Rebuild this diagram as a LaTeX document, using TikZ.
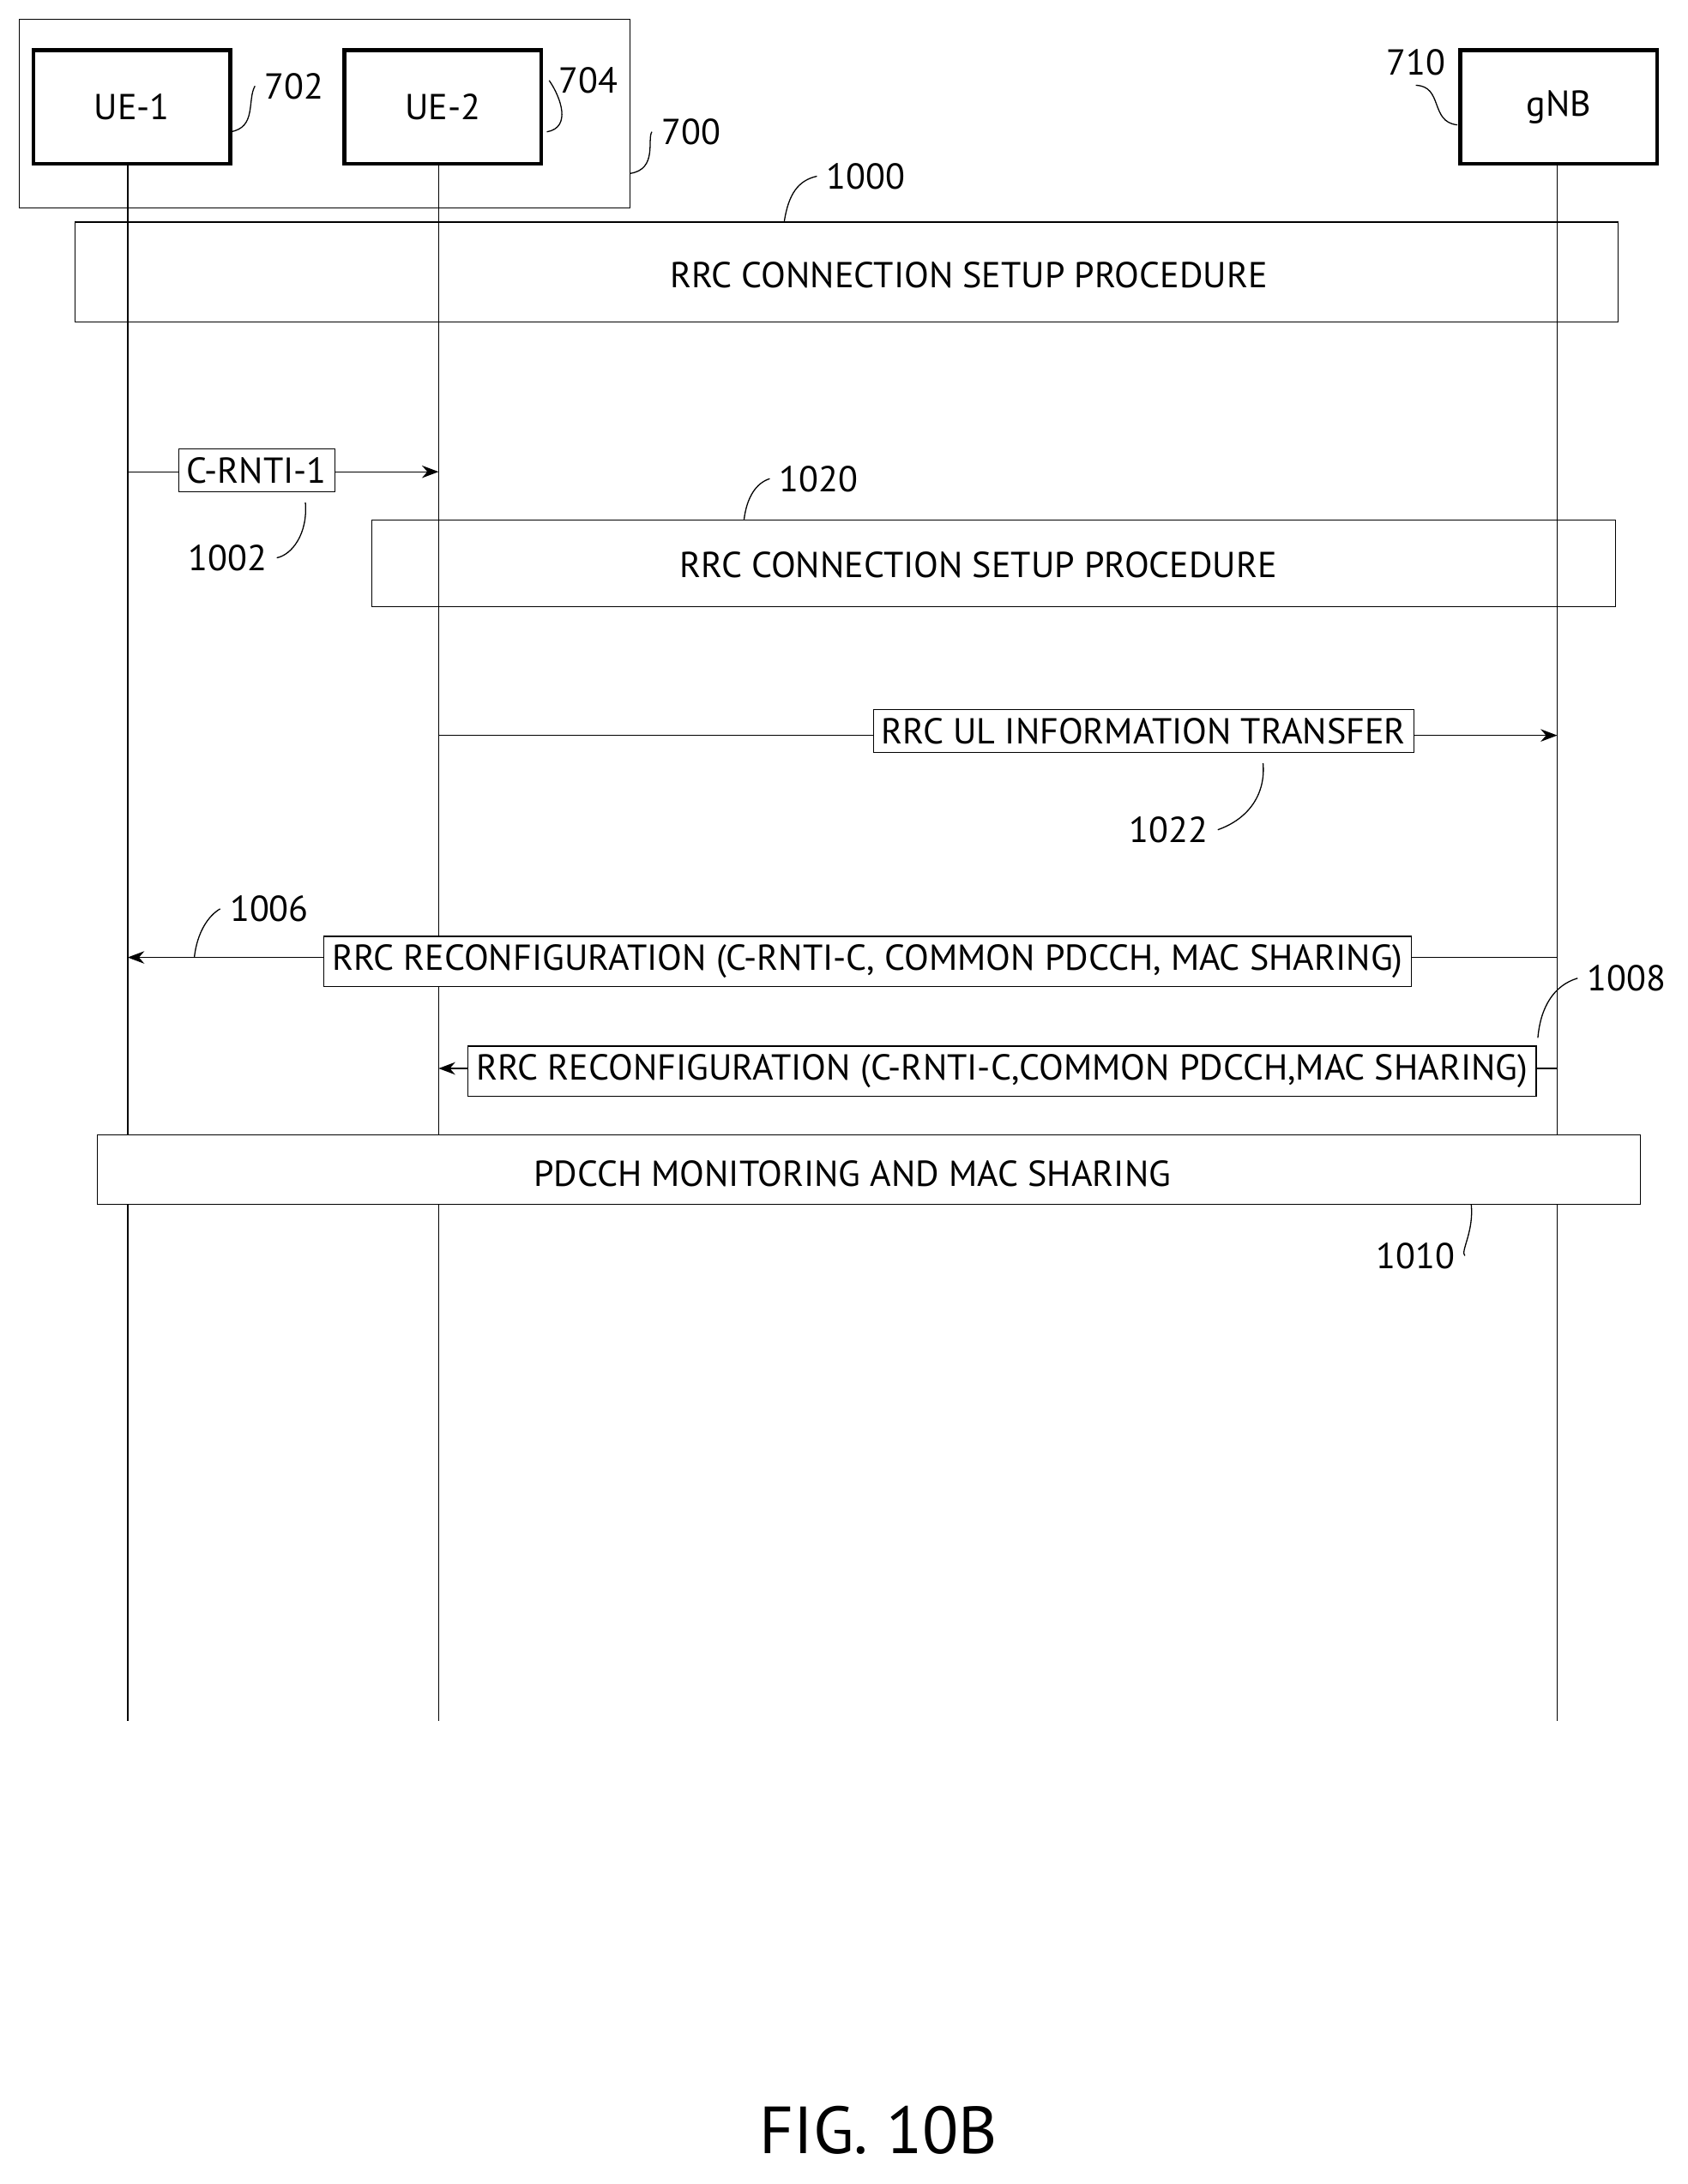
\documentclass[tikz,border=0pt]{standalone}
\usepackage{fontspec}
\setmainfont{PT Sans}
\usetikzlibrary{arrows.meta,positioning}
\tikzset{
  ent/.style={draw,line width=1.4pt,minimum width=71pt,minimum height=41pt,font=\fontsize{13}{15}\selectfont},
  proc/.style={draw,thin,font=\fontsize{13}{15}\selectfont},
  msg/.style={draw,thin,fill=white,inner sep=3pt,font=\fontsize{13}{15}\selectfont},
  lbl/.style={font=\fontsize{13}{15}\selectfont},
  life/.style={thin},
  sig/.style={thin,-{Stealth[length=6pt]}},
  lead/.style={thin}
}
\begin{document}
\begin{tikzpicture}[x=0.5pt,y=-0.5pt]
\useasboundingbox (0,0) rectangle (1216,1574);

% entities
\draw[thin] (14,14) rectangle (454,150);
\node[ent] (ue1) at (95,77) {UE-1};
\node[ent] (ue2) at (319,77) {UE-2};
\node[ent] (gnb) at (1123,77) {gNB};

% lifelines
\coordinate (ue1e) at (92,1240);
\coordinate (ue2e) at (316,1240);
\coordinate (gnbe) at (1122,1240);
\draw[life] (ue1.south -| ue1e) -- (ue1e);
\draw[life] (ue2.south -| ue2e) -- (ue2e);
\draw[life] (gnb.south -| gnbe) -- (gnbe);

% reference numerals
\node[lbl] (n702) at (212,62) {702};
\draw[lead] (166,95) .. controls (185,92) and (178,72) .. (n702.west);
\node[lbl] (n704) at (424,58) {704};
\draw[lead] (394,95) .. controls (412,92) and (404,70) .. (n704.west);
\node[lbl] (n700) at (498,95) {700};
\draw[lead] (454,125) .. controls (474,122) and (466,100) .. (n700.west);
\node[lbl] (n710) at (1020,45) {710};
\draw[lead] (1050,90) .. controls (1030,88) and (1040,62) .. (n710.south);

% procedures
\node[proc,minimum width=556pt,minimum height=36pt] (p1000) at (610,196) {};
\node[lbl] (t1000) at (698,198) {RRC CONNECTION SETUP PROCEDURE};
\node[lbl] (n1000) at (624,127) {1000};
\draw[lead] (565,160) .. controls (568,140) and (575,130) .. (n1000.west);

\draw[sig] (92,340) coordinate (c1s) -- (316,340);
\node[msg] (m1002) at (185,339) {C-RNTI-1};
\node[lbl] (n1002) at (164,402) {1002};
\draw[lead] (220,362) .. controls (222,385) and (210,400) .. (n1002.east);

\node[proc,minimum width=448pt,minimum height=31pt] (p1020) at (716,406) {};
\node[lbl] (t1020) at (705,407) {RRC CONNECTION SETUP PROCEDURE};
\node[lbl] (n1020) at (590,345) {1020};
\draw[lead] (536,375) .. controls (538,358) and (545,348) .. (n1020.west);

\draw[sig] (316,530) -- (1122,530);
\node[msg] (m1022) at (824,527) {RRC UL INFORMATION TRANSFER};
\node[lbl] (n1022) at (842,598) {1022};
\draw[lead] (910,550) .. controls (912,572) and (900,590) .. (n1022.east);

\draw[sig] (1122,690) -- (92,690);
\node[msg] (m1006) at (625,693) {RRC RECONFIGURATION (C-RNTI-C, COMMON PDCCH, MAC SHARING)};
\node[lbl] (n1006) at (194,655) {1006};
\draw[lead] (140,690) .. controls (142,672) and (150,660) .. (n1006.west);

\draw[sig] (1122,770) -- (316,770);
\node[msg] (m1008) at (722,772) {RRC RECONFIGURATION (C-RNTI-C,COMMON PDCCH,MAC SHARING)};
\node[lbl] (n1008) at (1172,705) {1008};
\draw[lead] (1108,748) .. controls (1110,725) and (1120,710) .. (n1008.west);

\node[proc,fill=white,minimum width=556pt,minimum height=25pt] (p1010) at (626,843) {};
\node[lbl] (t1010) at (614,846) {PDCCH MONITORING AND MAC SHARING};
\node[lbl] (n1010) at (1020,905) {1010};
\draw[lead] (1060,868) .. controls (1062,888) and (1052,902) .. (n1010.east);

\node[font=\fontsize{24}{28}\selectfont] (fig) at (633,1535) {FIG. 10B};
\end{tikzpicture}
\end{document}
